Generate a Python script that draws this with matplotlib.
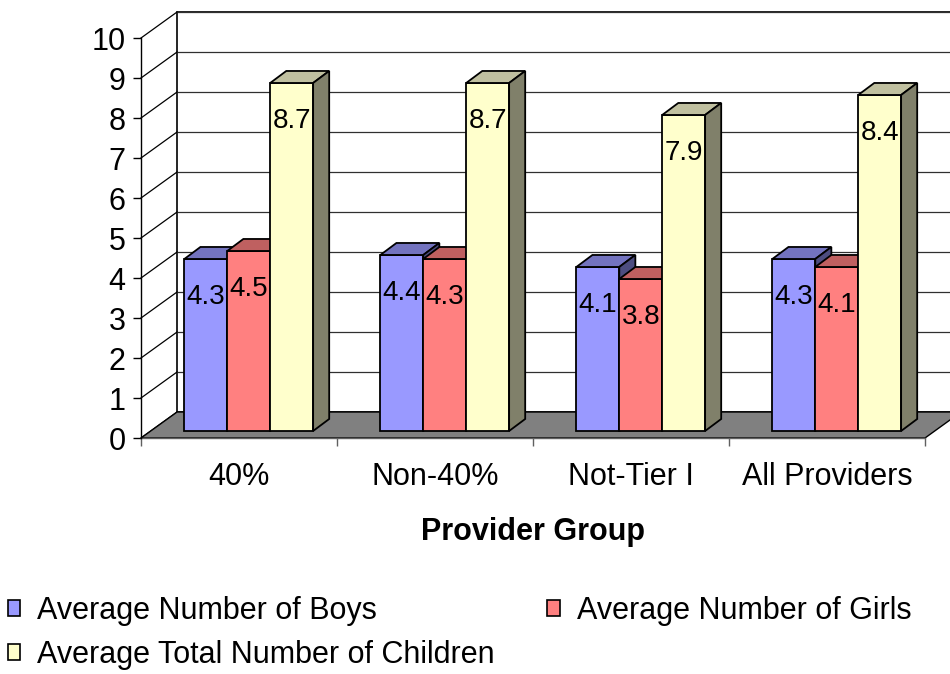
import matplotlib
matplotlib.use("Agg")
import matplotlib.pyplot as plt
from matplotlib.patches import Polygon, Patch

plt.rcParams['font.family'] = ['Liberation Sans', 'DejaVu Sans']

groups = ["40%", "Non-40%", "Not-Tier I", "All Providers"]
series = ["Average Number of Boys", "Average Number of Girls",
          "Average Total Number of Children"]
boys = [4.3, 4.4, 4.1, 4.3]
girls = [4.5, 4.3, 3.8, 4.1]
total = [8.7, 8.7, 7.9, 8.4]
yticks = list(range(0, 11))

front = ["#9999FF", "#FF8080", "#FFFFCC"]
top = ["#7373BF", "#BF6060", "#C0C0A0"]
side = ["#4D4D80", "#804040", "#80806A"]

W, H = 950, 674
fig = plt.figure(figsize=(W / 100, H / 100), dpi=100)
ax = fig.add_axes([141 / W, (H - 438) / H, (925 - 141) / W, 400 / H])
ax.set_xlim(0, 4)
ax.set_ylim(0, 10)

# depth of the floor / walls and of each bar, in data units
DX, DY = 0.184, 0.65
bx0, by0 = 0.27 * DX, 0.27 * DY
bdx, bdy = 0.082, 0.30
w = 0.219

# back wall with gridlines
ax.add_patch(Polygon([(DX, DY), (4 + DX, DY), (4 + DX, 10 + DY), (DX, 10 + DY)],
                     closed=True, facecolor="white", edgecolor="black",
                     lw=1.2, clip_on=False, zorder=0))
for k in yticks:
    ax.plot([DX, 4 + DX], [k + DY, k + DY], color="#303030", lw=0.9,
            clip_on=False, zorder=1)
    ax.plot([0, DX], [k, k + DY], color="black", lw=0.9, clip_on=False, zorder=1)

# floor
ax.add_patch(Polygon([(0, 0), (4, 0), (4 + DX, DY), (DX, DY)], closed=True,
                     facecolor="#808080", edgecolor="black", lw=1.0,
                     clip_on=False, zorder=2))

values = [boys, girls, total]
for i in range(len(groups)):
    for j, vals in enumerate(values):
        v = vals[i]
        xc = i + 0.5 + (j - 1) * w + bx0
        xl, xr = xc - w / 2, xc + w / 2
        y0, y1 = by0, by0 + v
        z = 3 + i * 3 + j
        ax.bar(xc, v, bottom=y0, width=w, color=front[j], edgecolor="black",
               lw=1.3, zorder=z, clip_on=False)
        ax.add_patch(Polygon([(xl, y1), (xr, y1), (xr + bdx, y1 + bdy), (xl + bdx, y1 + bdy)],
                             closed=True, facecolor=top[j], edgecolor="black",
                             lw=1.3, zorder=z, clip_on=False))
        ax.add_patch(Polygon([(xr, y0), (xr, y1), (xr + bdx, y1 + bdy), (xr + bdx, y0 + bdy)],
                             closed=True, facecolor=side[j], edgecolor="black",
                             lw=1.3, zorder=z, clip_on=False))
        ax.text(xc, y1 - 0.95, f"{v:.1f}", ha="center", va="center",
                fontsize=20, zorder=20)

# axes
for s in ["top", "right"]:
    ax.spines[s].set_visible(False)
ax.spines["left"].set_color("black")
ax.spines["left"].set_linewidth(1.0)
ax.spines["bottom"].set_color("#606060")
ax.spines["bottom"].set_linewidth(1.0)
ax.spines["left"].set_zorder(30)

ax.set_yticks(yticks)
ax.set_yticklabels([str(t) for t in yticks], fontsize=22)
ax.tick_params(axis="y", length=6, width=1, pad=5, direction="out")

ax.set_xticks(range(0, 5))
ax.set_xticklabels([])
ax.set_xticks([i + 0.5 for i in range(len(groups))], minor=True)
ax.set_xticklabels(groups, minor=True, fontsize=22)
ax.tick_params(axis="x", which="minor", length=0, pad=17)
ax.tick_params(axis="x", which="major", length=6, width=1, color="#606060")
ax.set_xlabel("Provider Group", fontsize=22, fontweight="bold", labelpad=18)

# legend, filled column-wise so it reads Boys, Girls / Total
handles = [Patch(facecolor=front[0], edgecolor="black", lw=1.2),
           Patch(facecolor=front[2], edgecolor="black", lw=1.2),
           Patch(facecolor=front[1], edgecolor="black", lw=1.2)]
labels = [series[0], series[2], series[1]]
fig.legend(handles, labels, ncol=2, loc="upper left",
           bbox_to_anchor=(0.008, (H - 596) / H), frameon=False, fontsize=22,
           handlelength=0.42, handleheight=0.42, handletextpad=0.55,
           columnspacing=1.72, labelspacing=0.46, borderpad=0.0,
           borderaxespad=0.0)

fig.savefig("out.png", dpi=100)
